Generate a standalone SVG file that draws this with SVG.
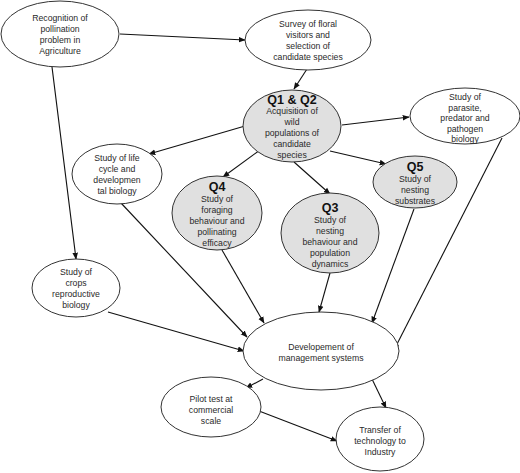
<svg xmlns="http://www.w3.org/2000/svg" width="520" height="473" viewBox="0 0 520 473">
<defs>
<marker id="ah" viewBox="0 0 10 10" refX="9" refY="5" markerWidth="7" markerHeight="7" orient="auto" markerUnits="userSpaceOnUse">
<path d="M0,1 L10,5 L0,9 z" fill="#111"/>
</marker>
<style>
.n{fill:#fff;stroke:#333;stroke-width:1}
.q{fill:#e0e0e0;stroke:#333;stroke-width:1}
text{font-family:"Liberation Sans",Arial,sans-serif;font-size:8.7px;fill:#2a2a2a;text-anchor:middle}
.b{font-size:12.5px;font-weight:bold;fill:#111}
.c line{stroke:#111;stroke-width:1.1;marker-end:url(#ah)}
</style>
</defs>
<rect width="520" height="473" fill="#fff"/>
<g class="c" id="connectors">
<line x1="120" y1="34" x2="245" y2="40"/>
<line x1="52" y1="67" x2="76" y2="259"/>
<line x1="307" y1="69" x2="294" y2="89"/>
<line x1="342" y1="125" x2="409" y2="117"/>
<line x1="245" y1="126" x2="149" y2="154"/>
<line x1="260" y1="150" x2="223" y2="177"/>
<line x1="294" y1="162" x2="330" y2="194"/>
<line x1="330" y1="151" x2="386" y2="164"/>
<line x1="121" y1="203" x2="247" y2="337"/>
<line x1="222" y1="250" x2="264" y2="323"/>
<line x1="330" y1="273" x2="319" y2="312"/>
<line x1="414" y1="209" x2="372" y2="323"/>
<line x1="502" y1="138" x2="394" y2="350"/>
<line x1="108" y1="312" x2="244" y2="351"/>
<line x1="263" y1="379" x2="246" y2="388"/>
<line x1="372" y1="379" x2="386" y2="408"/>
<line x1="259" y1="411" x2="337" y2="441"/>
</g>
<g id="recognition"><ellipse class="n" cx="60" cy="34" rx="59" ry="33"/>
<text x="60" y="21">Recognition of</text><text x="60" y="32">pollination</text><text x="60" y="43">problem in</text><text x="60" y="54">Agriculture</text></g>
<g id="survey"><ellipse class="n" cx="308" cy="40" rx="63" ry="30"/>
<text x="308" y="27">Survey of floral</text><text x="308" y="38">visitors and</text><text x="308" y="49">selection of</text><text x="308" y="60">candidate species</text></g>
<g id="q1q2"><ellipse class="q" cx="292" cy="126" rx="49" ry="36"/>
<text class="b" x="292" y="104">Q1 &amp; Q2</text><text x="292" y="114">Acquisition of</text><text x="292" y="125">wild</text><text x="292" y="136">populations of</text><text x="292" y="147">candidate</text><text x="292" y="158">species</text></g>
<g id="parasite"><ellipse class="n" cx="465" cy="116" rx="55" ry="28"/>
<text x="465" y="100">Study of</text><text x="465" y="111">parasite,</text><text x="465" y="121">predator and</text><text x="465" y="132">pathogen</text><text x="465" y="142">biology</text></g>
<g id="lifecycle"><ellipse class="n" cx="117" cy="174" rx="45" ry="30"/>
<text x="117" y="161">Study of life</text><text x="117" y="172">cycle and</text><text x="117" y="183">developmen</text><text x="117" y="194">tal biology</text></g>
<g id="q4"><ellipse class="q" cx="217" cy="213" rx="45" ry="37"/>
<text class="b" x="217" y="191">Q4</text><text x="217" y="202">Study of</text><text x="217" y="213">foraging</text><text x="217" y="224">behaviour and</text><text x="217" y="235">pollinating</text><text x="217" y="246">efficacy</text></g>
<g id="q3"><ellipse class="q" cx="330" cy="233" rx="49" ry="40"/>
<text class="b" x="330" y="212">Q3</text><text x="330" y="223">Study of</text><text x="330" y="234">nesting</text><text x="330" y="245">behaviour and</text><text x="330" y="256">population</text><text x="330" y="267">dynamics</text></g>
<g id="q5"><ellipse class="q" cx="415" cy="182" rx="42" ry="26"/>
<text class="b" x="415" y="171">Q5</text><text x="415" y="182">Study of</text><text x="415" y="193">nesting</text><text x="415" y="204">substrates</text></g>
<g id="crops"><ellipse class="n" cx="76" cy="288" rx="44" ry="29"/>
<text x="76" y="275">Study of</text><text x="76" y="286">crops</text><text x="76" y="297">reproductive</text><text x="76" y="308">biology</text></g>
<g id="development"><ellipse class="n" cx="321" cy="351" rx="78" ry="39"/>
<text x="321" y="350">Developement of</text><text x="321" y="361">management systems</text></g>
<g id="pilot"><ellipse class="n" cx="211" cy="407" rx="50" ry="30"/>
<text x="211" y="402">Pilot test at</text><text x="211" y="413">commercial</text><text x="211" y="424">scale</text></g>
<g id="transfer"><ellipse class="n" cx="380" cy="439" rx="44" ry="32"/>
<text x="380" y="433">Transfer of</text><text x="380" y="444">technology to</text><text x="380" y="455">Industry</text></g>
</svg>
